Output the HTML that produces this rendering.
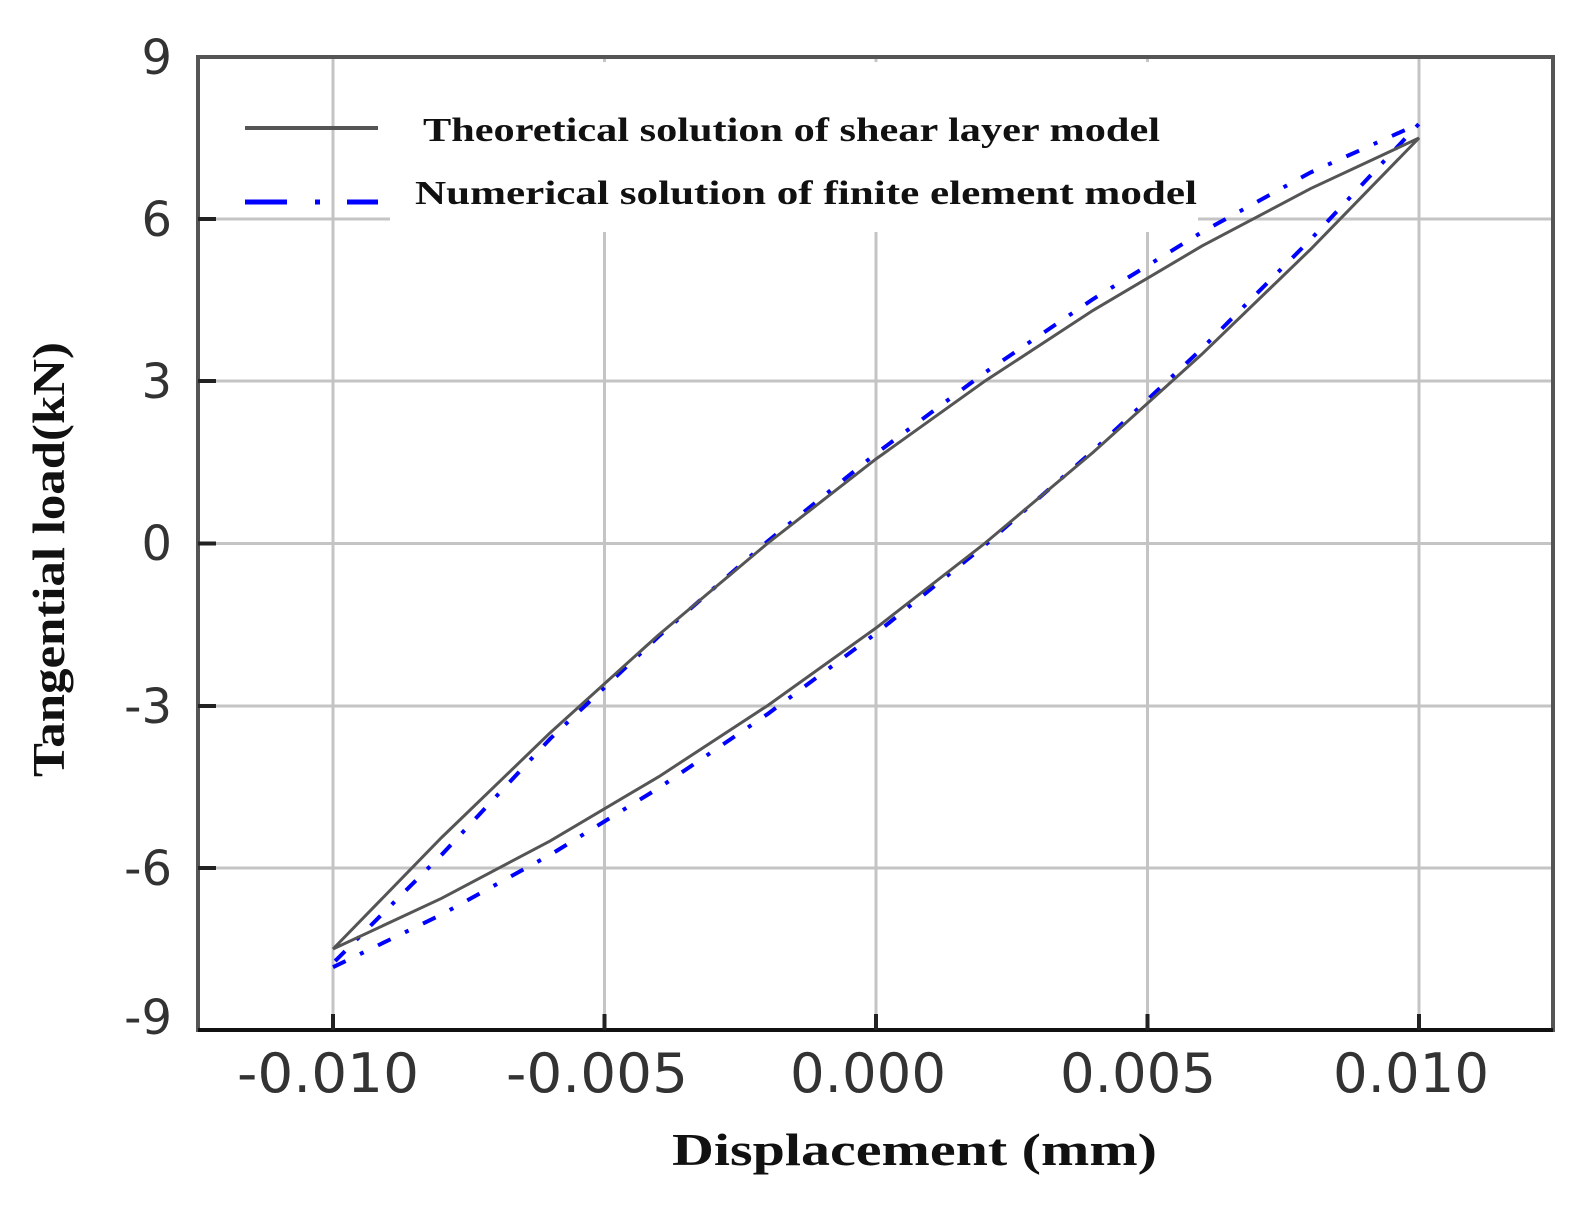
<!DOCTYPE html>
<html><head><meta charset="utf-8"><style>html,body{margin:0;padding:0;background:#fff}svg{display:block}</style></head>
<body>
<svg width="1582" height="1211" viewBox="0 0 1582 1211" xmlns="http://www.w3.org/2000/svg">
<g stroke="#c4c4c4" stroke-width="3">
<line x1="333" y1="57" x2="333" y2="1030"/><line x1="604.5" y1="57" x2="604.5" y2="1030"/><line x1="876" y1="57" x2="876" y2="1030"/><line x1="1147.5" y1="57" x2="1147.5" y2="1030"/><line x1="1419" y1="57" x2="1419" y2="1030"/>
<line x1="198" y1="219" x2="1553" y2="219"/><line x1="198" y1="381" x2="1553" y2="381"/><line x1="198" y1="543.5" x2="1553" y2="543.5"/><line x1="198" y1="706" x2="1553" y2="706"/><line x1="198" y1="868" x2="1553" y2="868"/>
</g>
<rect x="390" y="62" width="808" height="170" fill="#fff"/>
<rect x="198" y="57" width="1355" height="973" fill="none" stroke="#555" stroke-width="4"/>
<line x1="198" y1="1030" x2="1553" y2="1030" stroke="#111" stroke-width="4"/>
<g stroke="#222" stroke-width="4">
<line x1="333" y1="1030" x2="333" y2="1014"/><line x1="604.5" y1="1030" x2="604.5" y2="1014"/><line x1="876" y1="1030" x2="876" y2="1014"/><line x1="1147.5" y1="1030" x2="1147.5" y2="1014"/><line x1="1419" y1="1030" x2="1419" y2="1014"/>
<line x1="198" y1="219" x2="216" y2="219"/><line x1="198" y1="381" x2="216" y2="381"/><line x1="198" y1="543.5" x2="216" y2="543.5"/><line x1="198" y1="706" x2="216" y2="706"/><line x1="198" y1="868" x2="216" y2="868"/>
</g>
<polyline fill="none" stroke="#0000ff" stroke-width="4" stroke-dasharray="14 16 4 16" points="333,967.2 441.6,914.5 550.2,854.8 658.8,788 767.4,714.2 876,633.4 984.6,545.5 1093.2,450.7 1201.8,348.7 1310.4,239.7 1419,123.8 1310.4,172.5 1201.8,232.2 1093.2,299 984.6,372.8 876,453.6 767.4,541.5 658.8,636.3 550.2,738.7 441.6,854.8 333,963.2"/>
<polyline fill="none" stroke="#555" stroke-width="3" points="333,949 441.6,898.3 550.2,840.9 658.8,776.7 767.4,705.7 876,628 984.6,543.5 1093.2,452.3 1201.8,354.3 1310.4,249.5 1419,138 1310.4,188.7 1201.8,246.1 1093.2,310.3 984.6,381.3 876,459 767.4,543.5 658.8,634.7 550.2,732.7 441.6,837.5 333,949"/>
<g font-family="'DejaVu Sans','Liberation Sans',sans-serif" fill="#333" font-size="48" text-anchor="end">
<text x="172" y="74">9</text><text x="172" y="236">6</text><text x="172" y="398">3</text><text x="172" y="560">0</text><text x="172" y="723">-3</text><text x="172" y="885">-6</text><text x="172" y="1034">-9</text>
</g>
<g font-family="'DejaVu Sans','Liberation Sans',sans-serif" fill="#333" font-size="54">
<text x="237" y="1092" textLength="182" lengthAdjust="spacingAndGlyphs">-0.010</text>
<text x="506" y="1092" textLength="182" lengthAdjust="spacingAndGlyphs">-0.005</text>
<text x="790" y="1092" textLength="156" lengthAdjust="spacingAndGlyphs">0.000</text>
<text x="1060" y="1092" textLength="156" lengthAdjust="spacingAndGlyphs">0.005</text>
<text x="1333" y="1092" textLength="156" lengthAdjust="spacingAndGlyphs">0.010</text>
</g>
<text x="672" y="1165" textLength="485" lengthAdjust="spacingAndGlyphs" font-family="'Liberation Serif',serif" font-weight="bold" font-size="46" fill="#111">Displacement (mm)</text>
<text transform="translate(64,777) rotate(-90)" textLength="435" lengthAdjust="spacingAndGlyphs" font-family="'Liberation Serif',serif" font-weight="bold" font-size="46" fill="#111">Tangential load(kN)</text>
<line x1="245" y1="128" x2="378" y2="128" stroke="#555" stroke-width="4"/>
<g stroke="#0000ff" stroke-width="5"><line x1="245" y1="202" x2="287" y2="202"/><line x1="315" y1="202" x2="320" y2="202"/><line x1="347" y1="202" x2="378" y2="202"/></g>
<g font-family="'Liberation Serif',serif" font-weight="bold" font-size="34" fill="#111">
<text x="423" y="141" textLength="737" lengthAdjust="spacingAndGlyphs">Theoretical solution of shear layer model</text>
<text x="415" y="204" textLength="782" lengthAdjust="spacingAndGlyphs">Numerical solution of finite element model</text>
</g>
</svg>
</body></html>
